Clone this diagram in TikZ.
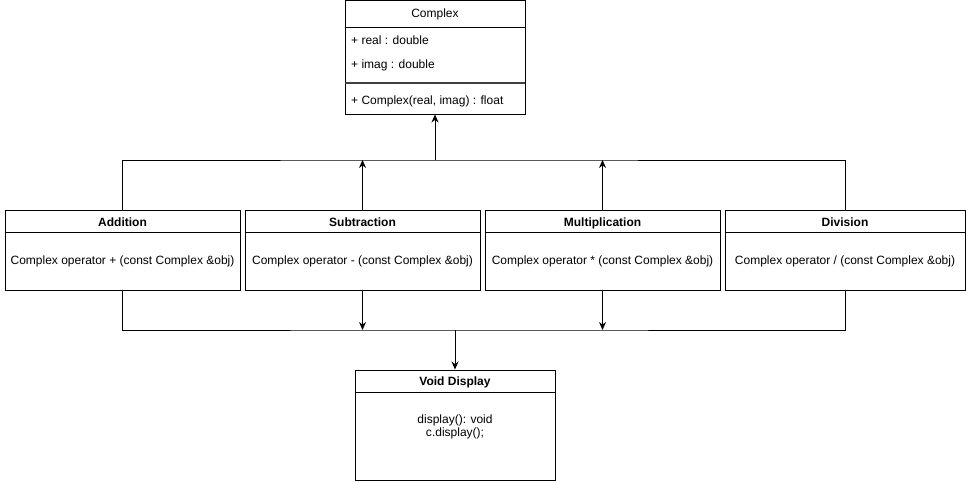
\documentclass[tikz,border=0pt]{standalone}
\usepackage{fontspec}
\setmainfont{Liberation Sans}
\usetikzlibrary{positioning, arrows.meta}
\tikzset{
  cls/.style={
      rectangle,
      draw,
      line width=1pt,
      inner sep=0pt
    },
  title/.style={
      font=\bfseries\fontsize{12}{14}\selectfont,
      inner sep=0pt
    },
  txt/.style={
      font=\fontsize{12}{13.5}\selectfont,
      inner sep=0pt
    },
  sep/.style={
      line width=1pt
    },
  arr/.style={
      -{Stealth[length=8pt,width=7pt]},
      line width=1pt
    },
  bus/.style={
      line width=1pt
    }
}

\begin{document}
\begin{tikzpicture}[x=1pt,y=-1pt]
  \useasboundingbox (0,0) rectangle (966,482);
  % base class
  \node[cls, minimum width=180pt, minimum height=113.5pt] (cplx) at (435,57.25) {};
  \draw[sep] (cplx.north west) ++(0,27) -- ++(180,0);
  \draw[line width=2pt, black!75] (cplx.north west) ++(0,83) -- ++(180,0);
  \node[txt] (cname) at (435,14) {Complex};
  \node[txt, anchor=west] (real) at (351,40.5) {+ real : double};
  \node[txt, anchor=west] (imag) at (351,65.5) {+ imag : double};
  \node[txt, anchor=west] (ctor) at (351,101.5) {+ Complex(real, imag) : float};
  % operator classes
  \foreach \nm/\x/\w/\ttl/\sym in {add/122.5/235/Addition/+, sub/362.5/235/Subtraction/-, mul/602.5/235/Multiplication/*, div/845/240/Division/{/}}{
    \node[cls, minimum width=\w pt, minimum height=80pt] (\nm) at (\x,250) {};
    \draw[sep] (\nm.north west) ++(0,23) -- ++(\w,0);
    \node[title, anchor=base] (\nm-t) at (\x,226.5) {\ttl};
    \node[txt] (\nm-b) at (\x,261.5) {Complex operator \sym{} (const Complex \&obj)};
  }
  % display class
  \node[cls, minimum width=200pt, minimum height=110pt] (disp) at (455,425) {};
  \draw[sep] (disp.north west) ++(0,23) -- ++(200,0);
  \node[title] (disp-t) at (455,382.5) {Void Display};
  \node[txt, align=center] (disp-b) at (455,427) {display(): void\\c.display();};
  % connectors
  \coordinate (upbus) at (435,160);
  \coordinate (downbus) at (455,330);
  \draw[bus] (add.north) |- (upbus) -| (div.north);
  \draw[arr] (sub.north) -- (sub.north |- upbus);
  \draw[arr] (mul.north) -- (mul.north |- upbus);
  \draw[arr] (upbus) -- (cplx.south);
  \draw[bus] (add.south) |- (downbus) -| (div.south);
  \draw[arr] (sub.south) -- (sub.south |- downbus);
  \draw[arr] (mul.south) -- (mul.south |- downbus);
  \draw[arr] (downbus) -- (disp.north);
\end{tikzpicture}
\end{document}
